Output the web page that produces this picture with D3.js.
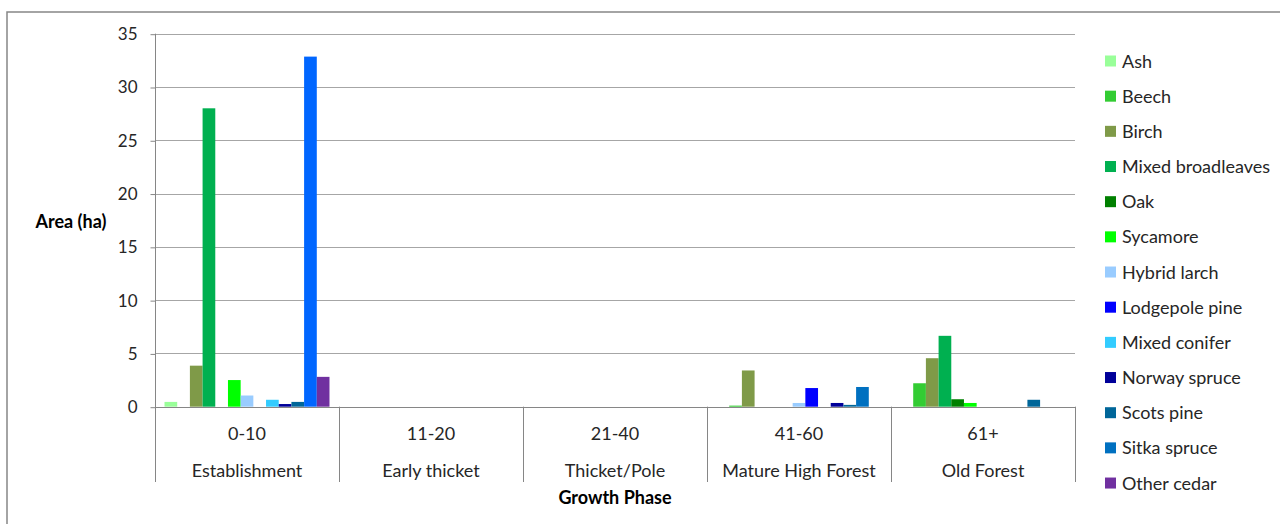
<!DOCTYPE html>
<html>
<head>
<meta charset="utf-8">
<script src="https://cdn.jsdelivr.net/npm/d3@7"></script>
<style>
  html, body { margin: 0; padding: 0; background: #fff; }
  svg { display: block; font-family: Lato, "Open Sans", sans-serif; }
</style>
</head>
<body>
<svg id="chart" width="1280" height="524"></svg>
<script>
// Age classes (upper label row) and growth phases (lower label row)
const ageClasses = ["0-10", "11-20", "21-40", "41-60", "61+"];
const growthPhases = ["Establishment", "Early thicket", "Thicket/Pole", "Mature High Forest", "Old Forest"];

// Species plotted, in legend order
const species = ["Ash", "Beech", "Birch", "Mixed broadleaves", "Oak", "Sycamore", "Hybrid larch",
  "Lodgepole pine", "Mixed conifer", "Norway spruce", "Scots pine", "Sitka spruce", "Other cedar"];

// Area (ha) per species for each growth phase
const ash              = [0.45, 0, 0, 0,    0];
const beech            = [0,    0, 0, 0.1,  2.2];
const birch            = [3.85, 0, 0, 3.4,  4.55];
const mixedBroadleaves = [28.0, 0, 0, 0,    6.65];
const oak              = [0,    0, 0, 0,    0.7];
const sycamore         = [2.5,  0, 0, 0,    0.35];
const hybridLarch      = [1.05, 0, 0, 0.35, 0];
const lodgepolePine    = [0,    0, 0, 1.75, 0];
const mixedConifer     = [0.65, 0, 0, 0,    0];
const norwaySpruce     = [0.25, 0, 0, 0.35, 0];
const scotsPine        = [0.45, 0, 0, 0.17, 0.65];
const sitkaSpruce      = [32.85, 0, 0, 1.85, 0];
const otherCedar       = [2.8,  0, 0, 0,    0];

// Value axis ticks
const yTicks = [0, 5, 10, 15, 20, 25, 30, 35];

const seriesValues = [ash, beech, birch, mixedBroadleaves, oak, sycamore, hybridLarch,
  lodgepolePine, mixedConifer, norwaySpruce, scotsPine, sitkaSpruce, otherCedar];

const colors = ["#99FF99", "#33CC33", "#7F9A48", "#00B050", "#008000", "#00FF00", "#99CCFF",
  "#0000FF", "#33CCFF", "#000099", "#006699", "#0070C0", "#7030A0"];
// Single data point with its own fill (Sitka spruce, 0-10)
const pointColors = { "Sitka spruce|0-10": "#0066FF" };

const svg = d3.select("#chart");
const plot = { left: 155, right: 1075, top: 33.7, bottom: 406.7 };
const catBottom = 482;
const textColor = "#262626";

// Outer chart frame
svg.append("rect")
  .attr("x", 7).attr("y", 12).attr("width", 1290).attr("height", 530)
  .attr("fill", "none").attr("stroke", "#868686").attr("stroke-width", 1.5);

const x0 = d3.scaleBand().domain(ageClasses).range([plot.left, plot.right]).paddingInner(0).paddingOuter(0);
const x1 = d3.scaleBand().domain(species).range([0, x0.bandwidth()]).paddingInner(0).paddingOuter(0.75);
const y = d3.scaleLinear().domain([0, 35]).range([plot.bottom, plot.top]);

// Horizontal gridlines
svg.append("g")
  .selectAll("line")
  .data(yTicks.filter(t => t > 0))
  .join("line")
  .attr("x1", plot.left).attr("x2", plot.right)
  .attr("y1", d => Math.round(y(d)) + 0.5).attr("y2", d => Math.round(y(d)) + 0.5)
  .attr("stroke", "#A6A6A6").attr("stroke-width", 1);

// Value axis
const yAxis = d3.axisLeft(y).tickValues(yTicks).tickSize(5).tickPadding(13);
const gy = svg.append("g").attr("transform", `translate(${plot.left + 0.5},0.5)`).call(yAxis);
gy.select(".domain").remove();
gy.selectAll(".tick line").attr("stroke", "#868686");
gy.selectAll(".tick text").attr("fill", textColor).style("font-size", "17px")
  .style("font-family", "Lato, 'Open Sans', sans-serif");
svg.append("line")
  .attr("x1", plot.left + 0.5).attr("x2", plot.left + 0.5)
  .attr("y1", plot.top).attr("y2", catBottom)
  .attr("stroke", "#868686");

// Bars
const groups = svg.append("g")
  .selectAll("g")
  .data(ageClasses)
  .join("g")
  .attr("transform", d => `translate(${x0(d)},0)`);

groups.selectAll("rect")
  .data((c, ci) => species.map((s, si) => ({ cat: c, s, si, v: seriesValues[si][ci] })))
  .join("rect")
  .attr("x", d => x1(d.s))
  .attr("width", x1.bandwidth())
  .attr("y", d => y(d.v))
  .attr("height", d => y(0) - y(d.v))
  .attr("fill", d => pointColors[d.s + "|" + d.cat] || colors[d.si]);

// Category axis: baseline and group separators
svg.append("line")
  .attr("x1", plot.left).attr("x2", plot.right)
  .attr("y1", Math.round(y(0)) + 0.5).attr("y2", Math.round(y(0)) + 0.5)
  .attr("stroke", "#868686");
svg.append("g")
  .selectAll("line")
  .data(ageClasses.slice(1).map(c => x0(c)).concat([plot.right]))
  .join("line")
  .attr("x1", d => Math.round(d) + 0.5).attr("x2", d => Math.round(d) + 0.5)
  .attr("y1", y(0)).attr("y2", catBottom)
  .attr("stroke", "#868686");

const labelG = svg.append("g").attr("fill", textColor).style("font-size", "18px").attr("text-anchor", "middle");
labelG.selectAll("text.age")
  .data(ageClasses)
  .join("text")
  .attr("class", "age")
  .attr("x", d => x0(d) + x0.bandwidth() / 2)
  .attr("y", 440)
  .text(d => d);
labelG.selectAll("text.phase")
  .data(growthPhases)
  .join("text")
  .attr("class", "phase")
  .attr("x", (d, i) => x0(ageClasses[i]) + x0.bandwidth() / 2)
  .attr("y", 477)
  .text(d => d);

// Axis titles
svg.append("text")
  .attr("x", (plot.left + plot.right) / 2).attr("y", 503.5)
  .attr("text-anchor", "middle").attr("font-weight", "bold")
  .style("font-size", "18px").attr("fill", "#000")
  .text("Growth Phase");
svg.append("text")
  .attr("x", 71).attr("y", 227.5)
  .attr("text-anchor", "middle").attr("font-weight", "bold")
  .style("font-size", "18px").attr("fill", "#000")
  .text("Area (ha)");

// Legend
const legend = svg.append("g")
  .selectAll("g")
  .data(species)
  .join("g")
  .attr("transform", (d, i) => `translate(1105,${61 + i * 35.17})`);
legend.append("rect")
  .attr("x", 0).attr("y", -5.5).attr("width", 11).attr("height", 11)
  .attr("fill", (d, i) => colors[i]);
legend.append("text")
  .attr("x", 17).attr("y", 6.5)
  .attr("fill", textColor).style("font-size", "18px")
  .text(d => d);
</script>
</body>
</html>
